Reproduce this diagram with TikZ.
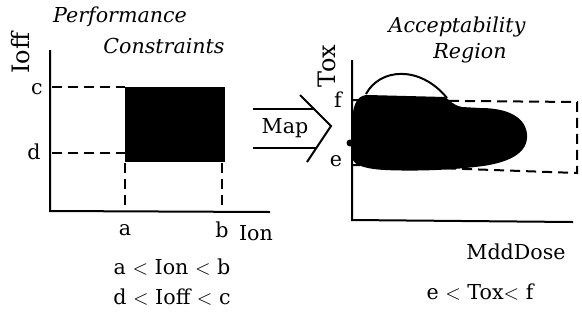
\documentclass[tikz,border=0pt]{standalone}
\usepackage{fontspec}
\setmainfont{DejaVu Serif}
\usepackage{tikz}
\usetikzlibrary{positioning}

\begin{document}
\begin{tikzpicture}[x=0.5pt, y=-0.5pt, every node/.style={font=\fontsize{10.3}{12}\selectfont, inner sep=1pt},
    ttl/.style={font=\fontsize{10.3}{12}\selectfont\itshape},
    axis/.style={line width=1pt},
    dashln/.style={line width=1pt, dash pattern=on 5pt off 3pt}]
    \useasboundingbox (0,0) rectangle (582,322);

    % Performance Constraints plot
    \node[ttl] (perf) at (120,17) {Performance};
    \node[ttl] (cons) at (164,46) {Constraints};
    \node[rotate=90, font=\fontsize{12}{13}\selectfont] (ioff) at (21,53) {Ioff};
    \draw[axis] (50,50) -- (50,211) -- (270,212);
    \fill (125,87) rectangle (225,162);
    \draw[dashln] (52,87) -- (125,87);
    \draw[dashln] (52,153) -- (125,153);
    \draw[dashln] (125,163) -- (125,210);
    \draw[dashln] (222,163) -- (222,210);
    \node (c) at (37,89) {c};
    \node (d) at (34,152) {d};
    \node (a) at (125,230) {a};
    \node (b) at (222,230) {b};
    \node (ion) at (256,233) {Ion};
    \node (ineq1) at (172,267) {a $<$ Ion $<$ b};
    \node (ineq2) at (172,297) {d $<$ Ioff $<$ c};

    % Map arrow
    \draw[line width=1pt] (253,109) -- (315,109);
    \draw[line width=1pt] (253,148) -- (316,148);
    \draw[line width=1pt] (300,95) -- (331,126) -- (307,162);
    \node (map) at (285,128) {Map};

    % Acceptability Region plot
    \node[ttl] (acc) at (457,27) {Acceptability};
    \node[ttl] (reg) at (470,53) {Region};
    \node[rotate=90, font=\fontsize{12}{13}\selectfont] (tox) at (327,66) {Tox};
    \draw[dashln] (353,100) -- (577,102) -- (577,173) -- (353,165);
    \draw[axis] (352,60) -- (352,220) -- (573,222);
    % blob
    \fill (353,160) -- (353,112) .. controls (355,100) and (360,95) .. (368,95)
        -- (445,97) .. controls (450,100) and (452,105) .. (462,107)
        -- (480,108) .. controls (515,108) and (528,122) .. (527,138)
        .. controls (526,155) and (505,164) .. (475,167)
        .. controls (440,171) and (405,171) .. (385,170)
        .. controls (365,169) and (355,165) .. (353,160) -- cycle;
    \fill (350,143) circle (3.5);
    \draw[line width=1pt] (366,94) .. controls (380,68) and (420,65) .. (447,98);
    \node (f) at (338,100) {f};
    \node (e) at (336,161) {e};
    \node (mdd) at (516,252) {MddDose};
    \node (ineq3) at (480,292) {e $<$ Tox$<$ f};
\end{tikzpicture}
\end{document}
